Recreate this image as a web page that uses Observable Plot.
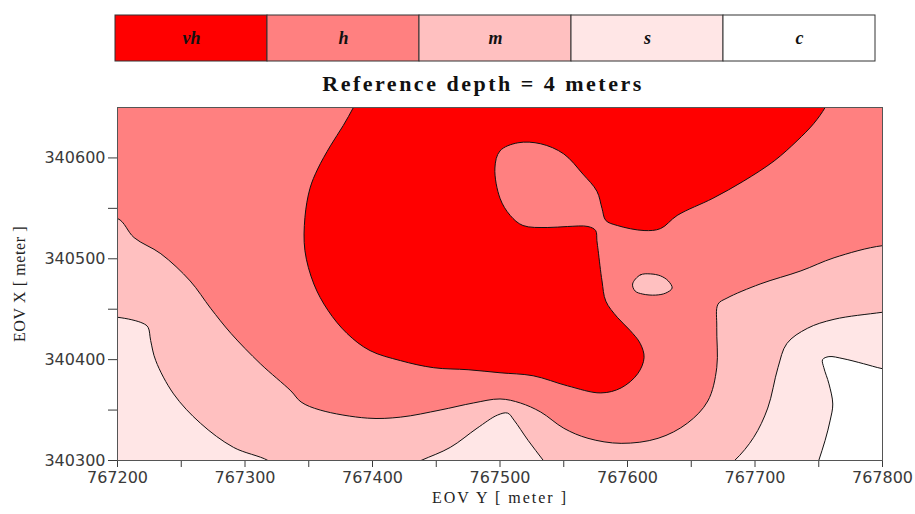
<!DOCTYPE html>
<html>
<head>
<meta charset="utf-8">
<script src="https://cdn.jsdelivr.net/npm/d3@7"></script>
<script src="https://cdn.jsdelivr.net/npm/@observablehq/plot@0.6"></script>
<style>
  body { margin: 0; background: #fff; width: 915px; height: 514px; overflow: hidden; }
  #legend svg, #chart svg { display: block; }
  #title { height: 34px; box-sizing: border-box; padding-top: 5px; line-height: 30px; text-align: center; padding-left: 51px;
           font: bold 22px "Liberation Serif", serif; letter-spacing: 2.5px; color: #111; }
</style>
</head>
<body>
<div id="legend"></div>
<div id="title">Reference depth = 4 meters</div>
<div id="chart"></div>
<script>
// ---- legend categories and colours ----
const categories = ["vh", "h", "m", "s", "c"];
const levelColors = ["#FF0000", "#FF8080", "#FFC0C0", "#FFE6E6", "#FFFFFF"];

// ---- axis ticks ----
const xTickValues = [767200, 767250, 767300, 767350, 767400, 767450, 767500, 767550, 767600, 767650, 767700, 767750, 767800];
const xTickLabels = [767200, 767300, 767400, 767500, 767600, 767700, 767800];
const yTickValues = [340300, 340350, 340400, 340450, 340500, 340550, 340600];
const yTickLabels = [340300, 340400, 340500, 340600];
const xDomain = [767200, 767800];
const yDomain = [340300, 340650];
const xTitle = "EOV Y [ meter ]";
const yTitle = "EOV X [ meter ]";

// ---- contour boundaries [EOV Y, EOV X] ----
// h / m boundary (m region lies below it)
const mRegion = [[767170,340540],[767200,340540],[767213,340521],[767234,340505],[767257,340478],[767273,340451],[767289,340426],[767312,340396],[767336,340369],[767344,340358],[767359,340350],[767396,340342],[767422,340343],[767453,340350],[767479,340357],[767500,340361],[767516,340357],[767532,340348],[767550,340332],[767569,340322],[767595,340317],[767624,340322],[767647,340337],[767663,340359],[767670,340392],[767670,340432],[767671,340455],[767678,340461],[767704,340475],[767736,340488],[767762,340501],[767800,340513],[767830,340513],[767830,340270],[767170,340270]];
// m / s boundaries
const sRegionLeft = [[767170,340442],[767200,340442],[767220,340436],[767224,340432],[767226,340419],[767230,340399],[767244,340366],[767265,340337],[767291,340313],[767318,340300],[767330,340288],[767330,340260],[767170,340260]];
const sRegionMiddle = [[767415,340287],[767438,340300],[767461,340313],[767482,340332],[767498,340345],[767506,340347],[767511,340340],[767522,340320],[767534,340300],[767546,340280]];
const sRegionRight = [[767668,340285],[767684,340300],[767699,340323],[767710,340352],[767718,340392],[767725,340416],[767741,340431],[767762,340440],[767800,340447],[767830,340452],[767830,340260],[767668,340260]];
// s / c boundary
const cRegion = [[767746,340285],[767750,340300],[767755,340320],[767759,340340],[767761,340356],[767758,340376],[767754,340392],[767753,340400],[767758,340403],[767769,340401],[767785,340396],[767800,340391],[767830,340385],[767830,340260],[767746,340260]];
// h / vh boundary
const vhRegion = [[767762,340668],[767755,340650],[767746,340634],[767733,340617],[767715,340597],[767691,340577],[767667,340560],[767639,340543],[767626,340530],[767613,340528],[767592,340533],[767583,340538],[767580,340550],[767576,340567],[767565,340584],[767550,340604],[767532,340614],[767514,340615],[767500,340607],[767496,340590],[767500,340560],[767508,340543],[767518,340533],[767537,340531],[767553,340532],[767569,340532],[767575,340528],[767576,340518],[767577,340508],[767580,340478],[767583,340458],[767592,340442],[767602,340429],[767610,340416],[767613,340402],[767608,340386],[767595,340372],[767579,340367],[767553,340374],[767526,340384],[767500,340387],[767475,340390],[767448,340392],[767422,340399],[767398,340409],[767380,340426],[767365,340449],[767354,340475],[767347,340508],[767347,340541],[767351,340570],[767357,340589],[767367,340612],[767377,340632],[767385,340650],[767392,340668]];
// small m island inside h
const mIsland = [[767604,340475],[767610,340484],[767618,340485],[767626,340483],[767632,340478],[767635,340471],[767630,340466],[767622,340464],[767612,340465],[767606,340468]];

// ---- legend ----
const legend = Plot.plot({
  width: 915, height: 66,
  marginTop: 15, marginBottom: 5, marginLeft: 113, marginRight: 38,
  x: {domain: categories, padding: 0, axis: null},
  color: {domain: categories, range: levelColors},
  style: {background: "white"},
  marks: [
    Plot.cell(categories, {x: d => d, fill: d => d, stroke: "#333", strokeWidth: 1}),
    Plot.text(categories, {x: d => d, text: d => d, fontSize: 18, fontWeight: "bold", fontStyle: "italic", fontFamily: "Liberation Serif", fill: "#111"})
  ]
});
document.getElementById("legend").append(legend);

// ---- map ----
const lineOpts = (fill, curve) => ({x: d => d[0], y: d => d[1], fill, stroke: "#111", strokeWidth: 1, curve, clip: true});

const chart = Plot.plot({
  width: 915, height: 414,
  marginTop: 7, marginBottom: 54, marginLeft: 117, marginRight: 33,
  x: {domain: xDomain, ticks: xTickValues, tickFormat: d => xTickLabels.includes(d) ? String(d) : "", tickSize: 7, tickPadding: 4, label: null},
  y: {domain: yDomain, ticks: yTickValues, tickFormat: d => yTickLabels.includes(d) ? String(d) : "", tickSize: 9, tickPadding: 3,
      label: yTitle, labelAnchor: "center", labelOffset: 104, labelArrow: "none"},
  style: {fontFamily: "DejaVu Sans", fontSize: "16px", color: "#3a3a3a", background: "white"},
  marks: [
    Plot.frame({fill: levelColors[1]}),
    Plot.line(mRegion, lineOpts(levelColors[2], "catmull-rom")),
    Plot.line(sRegionLeft, lineOpts(levelColors[3], "catmull-rom")),
    Plot.line(sRegionMiddle, lineOpts(levelColors[3], "catmull-rom")),
    Plot.line(sRegionRight, lineOpts(levelColors[3], "catmull-rom")),
    Plot.line(cRegion, lineOpts(levelColors[4], "catmull-rom")),
    Plot.line(vhRegion, lineOpts(levelColors[0], "catmull-rom")),
    Plot.line(mIsland, lineOpts(levelColors[2], "catmull-rom-closed")),
    Plot.frame({stroke: "#555"}),
    Plot.text([xTitle], {frameAnchor: "bottom", dy: 42, textAnchor: "middle", text: d => d, fontFamily: "Liberation Serif", fontSize: 16, fill: "#222"})
  ]
});
document.getElementById("chart").append(chart);
// axis-title typography
chart.querySelectorAll("text").forEach(t => {
  if (t.textContent === xTitle) t.setAttribute("letter-spacing", "2");
  if (t.textContent.includes("EOV X")) {
    t.setAttribute("letter-spacing", "0.6");
    t.setAttribute("font-family", "Liberation Serif");
    t.setAttribute("font-size", "16");
    t.setAttribute("fill", "#222");
    t.style.fontFamily = "Liberation Serif";
    t.style.fontSize = "16px";
  }
});
</script>
</body>
</html>
